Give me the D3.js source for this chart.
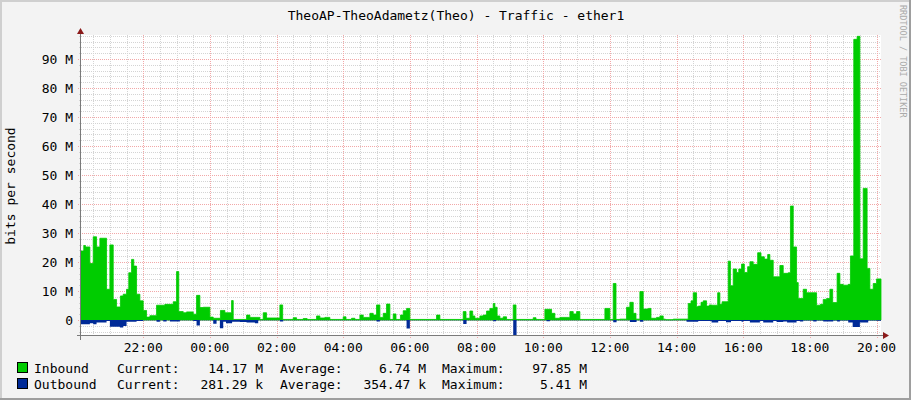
<!DOCTYPE html>
<html><head><meta charset="utf-8">
<script src="https://cdn.jsdelivr.net/npm/d3@7/dist/d3.min.js"></script>
<style>
html,body{margin:0;padding:0;background:#f3f3f3;}
svg{display:block;}
text{font-family:"DejaVu Sans Mono",monospace;}
</style></head>
<body>
<script>
// ---- data ----
const chartTitle = "TheoAP-TheoAdametz(Theo) - Traffic - ether1";
const yAxisLabel = "bits per second";
const watermark = "RRDTOOL / TOBI OETIKER";
const seriesNames = ["Inbound", "Outbound"];
const seriesColors = ["#00cc00", "#002a97"];
// minutes since window start (20:08) and values in Mbit/s
const inboundMinutes = [0,5,8,16,22,28,34,46,52,58,64,71,76,82,86,91,95,100,106,112,118,124,136,151,166,172,176,184,190,202,208,214,220,232,238,251,259,271,274,298,304,322,328,334,358,363,382,388,400,407,424,430,439,448,472,477,487,493,502,508,520,526,532,538,544,550,556,562,567,575,580,586,592,640,646,688,693,700,705,709,718,724,730,736,742,745,749,754,760,766,778,783,814,819,835,847,853,862,880,886,892,898,943,952,958,963,970,982,988,994,999,1006,1012,1021,1026,1036,1042,1048,1052,1066,1093,1098,1102,1108,1111,1116,1120,1126,1131,1135,1146,1150,1154,1165,1169,1174,1180,1184,1189,1194,1200,1204,1210,1218,1224,1230,1236,1240,1246,1258,1264,1273,1277,1282,1288,1291,1300,1306,1324,1331,1336,1342,1348,1353,1361,1366,1372,1381,1385,1391,1397,1402,1408,1415,1420,1426,1432];
const inboundValues = [23.8,25.7,25.2,19.5,28.7,25.2,28.2,10.6,25.9,7.1,4.5,8.3,8.9,10.6,16.3,20.9,18.6,8.9,6.6,3.3,1.0,1.5,5.1,5.4,6.3,16.7,2.9,2.5,2.8,2.0,8.5,4.3,4.4,1.0,0.6,3.3,2.5,6.7,0.2,1.7,0.9,0.2,2.5,0.7,5.2,0.2,0.8,0.2,0.5,0.2,1.4,0.7,0.9,0.2,1.1,0.2,0.6,0.2,1.7,0.9,2.3,1.7,5.2,0.9,2.3,5.5,0.2,2.1,0.2,1.7,3.2,4.0,0.2,1.7,0.2,2.9,0.6,3.1,1.4,0.6,1.4,1.7,3.1,4.0,5.7,4.4,1.4,0.6,1.1,0.2,5.2,0.2,0.8,0.2,3.7,2.3,0.6,0.9,2.9,2.1,2.9,0.2,4.0,0.2,12.6,0.2,0.3,4.4,6.1,2.3,0.3,9.8,3.8,4.0,0.6,0.9,1.4,0.3,0.1,0.3,5.7,6.6,9.4,4.6,4.8,6.1,6.6,4.8,5.2,5.1,9.4,5.4,6.3,20.3,11.8,17.6,16.4,17.6,19.3,16.4,18.4,20.1,19.2,23.2,21.8,21.0,22.6,20.6,14.9,18.8,16.1,16.3,39.3,25.2,12.9,7.4,10.6,9.4,5.1,5.4,7.1,7.4,10.6,6.0,16.1,12.3,12.0,12.3,22.1,96.8,97.85,21.1,45.4,17.8,10.6,12.6,14.17];
const outboundMinutes = [0,16,22,28,46,52,70,76,82,100,112,136,142,148,154,160,178,202,208,214,238,244,250,256,261,272,286,298,313,319,358,364,532,538,586,592,688,694,742,747,778,784,838,844,958,964,988,1000,1006,1012,1090,1111,1135,1147,1161,1170,1189,1192,1204,1222,1228,1246,1252,1264,1271,1288,1294,1300,1318,1324,1336,1354,1361,1366,1381,1389,1402,1417,1432];
const outboundValues = [1.5,1.1,1.5,0.9,0.3,2.3,2.6,2.1,0.6,0.3,0.1,0.6,0.1,0.5,0.1,0.5,0.1,0.3,1.9,0.1,1.3,0.1,2.8,0.6,1.1,0.6,0.7,0.9,1.1,0.1,0.5,0.05,0.5,0.05,2.9,0.05,1.4,0.05,0.4,0.05,5.41,0.05,0.4,0.05,0.8,0.05,0.7,0.05,0.6,0.05,0.6,0.3,0.9,0.3,0.8,0.3,0.6,0.3,0.9,0.3,0.9,0.3,0.7,0.5,0.9,0.3,0.5,0.2,0.5,0.2,0.5,0.2,0.5,0.2,0.9,2.4,0.9,0.2,0.28];
const yTickValues = [0,10,20,30,40,50,60,70,80,90];
const yTickLabels = ["0","10 M","20 M","30 M","40 M","50 M","60 M","70 M","80 M","90 M"];
const xTickLabels = ["22:00","00:00","02:00","04:00","06:00","08:00","10:00","12:00","14:00","16:00","18:00","20:00"];
const legendCurrent = ["14.17 M","281.29 k"];
const legendAverage = ["6.74 M","354.47 k"];
const legendMaximum = ["97.85 M","5.41 M"];

// ---- layout ----
const W = 911, H = 400;
const L = 81, R = 881, T = 35, B = 335;
const start = new Date(2024, 0, 1, 20, 8);
const end = new Date(start.getTime() + 1440 * 60000);
const toDate = m => new Date(start.getTime() + m * 60000);

const x = d3.scaleTime().domain([start, end]).range([L, R]);
const y = d3.scaleLinear().domain([-5.17, 98.3]).range([B, T]);

const svg = d3.select("body").append("svg").attr("width", W).attr("height", H);
svg.append("rect").attr("width", W).attr("height", H).attr("fill", "#f3f3f3");
// frame shading
svg.append("rect").attr("x",0).attr("y",0).attr("width",W).attr("height",2).attr("fill","#cfcfcf");
svg.append("rect").attr("x",0).attr("y",0).attr("width",2).attr("height",H).attr("fill","#cfcfcf");
svg.append("rect").attr("x",0).attr("y",H-2).attr("width",W).attr("height",2).attr("fill","#9e9e9e");
svg.append("rect").attr("x",W-2).attr("y",0).attr("width",2).attr("height",H).attr("fill","#9e9e9e");

// canvas
svg.append("rect").attr("x", L).attr("y", T).attr("width", R - L).attr("height", B - T).attr("fill", "#fff");

const grid = svg.append("g").attr("shape-rendering", "crispEdges");
// horizontal minor grid every 2M
const minorY = d3.range(-4, 99, 2).filter(v => v % 10 !== 0);
grid.selectAll(".hmin").data(minorY).join("line")
  .attr("x1", L - 2).attr("x2", R).attr("y1", d => Math.round(y(d)) + 0.5).attr("y2", d => Math.round(y(d)) + 0.5)
  .attr("stroke", "#d4d4d4").attr("stroke-dasharray", "1,1");
// vertical minor grid every 30 min
const minorX = d3.timeMinute.every(30).range(start, end).filter(d => !(d.getMinutes() === 0 && d.getHours() % 2 === 0));
grid.selectAll(".vmin").data(minorX).join("line")
  .attr("x1", d => Math.round(x(d)) + 0.5).attr("x2", d => Math.round(x(d)) + 0.5).attr("y1", T).attr("y2", B + 2)
  .attr("stroke", "#d4d4d4").attr("stroke-dasharray", "1,1");
// major grid
grid.selectAll(".hmaj").data(yTickValues).join("line")
  .attr("x1", L - 3).attr("x2", R).attr("y1", d => Math.round(y(d)) + 0.5).attr("y2", d => Math.round(y(d)) + 0.5)
  .attr("stroke", "#f2a8a8").attr("stroke-dasharray", "1,1");
const majorX = d3.timeHour.every(2).range(start, end);
grid.selectAll(".vmaj").data(majorX).join("line")
  .attr("x1", d => Math.round(x(d)) + 0.5).attr("x2", d => Math.round(x(d)) + 0.5).attr("y1", T).attr("y2", B + 3)
  .attr("stroke", "#f2a8a8").attr("stroke-dasharray", "1,1");

// series
const inData = inboundMinutes.map((m, i) => ({ t: toDate(m), v: inboundValues[i] }));
inData.push({ t: end, v: inboundValues[inboundValues.length - 1] });
const outData = outboundMinutes.map((m, i) => ({ t: toDate(m), v: -outboundValues[i] }));
outData.push({ t: end, v: -outboundValues[outboundValues.length - 1] });

const area = d3.area().x(d => x(d.t)).y0(y(0)).y1(d => y(d.v)).curve(d3.curveStepAfter);
const plot = svg.append("g");
plot.append("path").datum(inData).attr("d", area).attr("fill", seriesColors[0])
  .attr("stroke", seriesColors[0]).attr("stroke-width", 0.8);
plot.append("path").datum(outData).attr("d", area).attr("fill", seriesColors[1]);

// axes
const ax = svg.append("g").attr("shape-rendering", "crispEdges");
ax.append("line").attr("x1", L - 4).attr("x2", R + 4).attr("y1", B + 0.5).attr("y2", B + 0.5).attr("stroke", "#7a7a7a");
ax.append("line").attr("x1", L - 0.5).attr("x2", L - 0.5).attr("y1", T - 2).attr("y2", B + 5).attr("stroke", "#7a7a7a");
svg.append("path").attr("d", `M${R + 2},${B - 3} L${R + 8},${B + 0.5} L${R + 2},${B + 4} Z`).attr("fill", "#8b1a1a");
svg.append("path").attr("d", `M${L - 4},${T - 1} L${L - 0.5},${T - 7} L${L + 3},${T - 1} Z`).attr("fill", "#8b1a1a");

// y tick labels
svg.selectAll(".ylab").data(yTickValues).join("text")
  .attr("x", 73).attr("y", d => y(d) + 4.5).attr("text-anchor", "end")
  .attr("font-size", "13px").attr("fill", "#000").text((d, i) => yTickLabels[i]);
// x tick labels
svg.selectAll(".xlab").data(majorX).join("text")
  .attr("x", d => x(d)).attr("y", 352).attr("text-anchor", "middle")
  .attr("font-size", "13px").attr("fill", "#000").text((d, i) => xTickLabels[i]);

// title
svg.append("text").attr("x", 456).attr("y", 20).attr("text-anchor", "middle")
  .attr("font-size", "13px").attr("fill", "#000").text(chartTitle);
// y axis label
svg.append("text").attr("transform", "translate(15,186) rotate(-90)").attr("text-anchor", "middle")
  .attr("font-size", "13px").attr("fill", "#000").text(yAxisLabel);
// watermark
svg.append("text").attr("transform", "translate(900,5) rotate(90)").attr("text-anchor", "start")
  .attr("font-size", "8.5px").attr("fill", "#aaaaaa").text(watermark);

// legend
const rowsY = [368, 384];
seriesNames.forEach((name, i) => {
  const cy = rowsY[i];
  svg.append("rect").attr("x", 17.5).attr("y", cy - 5.5).attr("width", 10).attr("height", 10)
    .attr("fill", seriesColors[i]).attr("stroke", "#000").attr("stroke-width", 1);
  const base = cy + 4.5;
  const t = (xx, s, anchor) => svg.append("text").attr("x", xx).attr("y", base).attr("text-anchor", anchor)
    .attr("font-size", "13px").attr("fill", "#000").text(s);
  t(34, name, "start");
  t(117, "Current:", "start");
  t(263, legendCurrent[i], "end");
  t(280, "Average:", "start");
  t(426, legendAverage[i], "end");
  t(442, "Maximum:", "start");
  t(587, legendMaximum[i], "end");
});
</script>
</body></html>
